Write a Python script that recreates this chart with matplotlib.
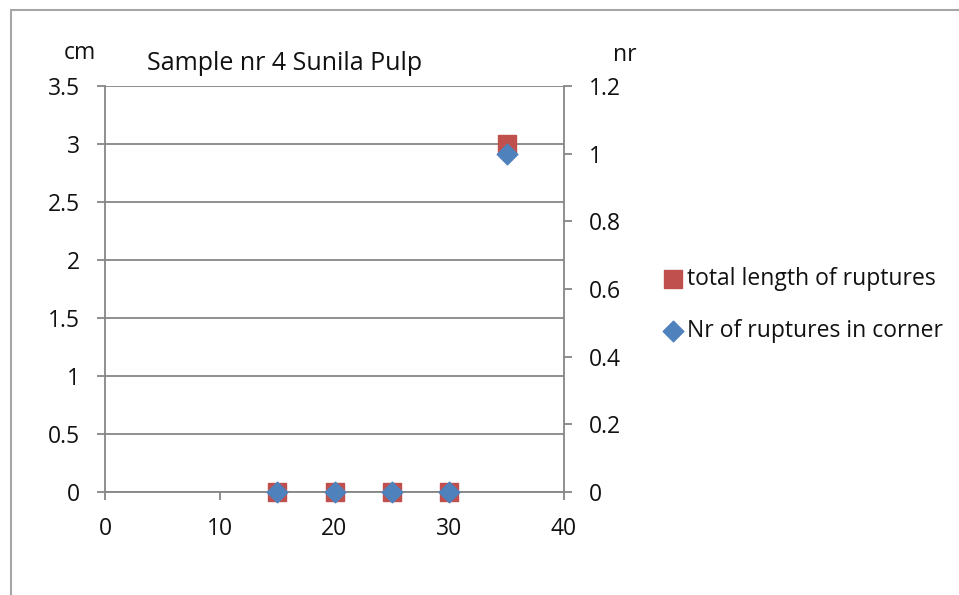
import matplotlib.pyplot as plt
from matplotlib.patches import Rectangle

# data
x_vals = [15, 20, 25, 30, 35]
total_length = [0, 0, 0, 0, 3]      # cm, left axis
nr_corner = [0, 0, 0, 0, 1]         # nr, right axis

left_ticks = [0, 0.5, 1, 1.5, 2, 2.5, 3, 3.5]
left_labels = ['0', '0.5', '1', '1.5', '2', '2.5', '3', '3.5']
right_ticks = [0, 0.2, 0.4, 0.6, 0.8, 1.0, 1.2]
right_labels = ['0', '0.2', '0.4', '0.6', '0.8', '1', '1.2']
x_ticks = [0, 10, 20, 30, 40]

plt.rcParams['font.family'] = ['Open Sans', 'DejaVu Sans']
plt.rcParams['font.size'] = 16.5
plt.rcParams['text.color'] = '#111111'
plt.rcParams['xtick.labelcolor'] = '#111111'
plt.rcParams['ytick.labelcolor'] = '#111111'
gray = '#868686'
red = '#C0504D'
blue = '#4F81BD'

fig = plt.figure(figsize=(9.59, 5.95), dpi=100)
# outer chart border (right and bottom edges run off the image)
fig.patches.append(Rectangle((11/959, -0.1), 1.2, 1 - 10/595 + 0.1, transform=fig.transFigure,
                             fill=False, edgecolor='#a6a6a6', linewidth=1.5))

ax = fig.add_axes([105/959, 1 - 492/595, (564 - 105)/959, (492 - 86)/595])
ax2 = ax.twinx()

ax.scatter(x_vals, total_length, marker='s', s=150, color=red, zorder=3, clip_on=False,
           label='total length of ruptures')
ax2.scatter(x_vals, nr_corner, marker='D', s=110, color=blue, zorder=3, clip_on=False,
            label='Nr of ruptures in corner')

ax.set_xlim(0, 40)
ax.set_ylim(0, 3.5)
ax2.set_ylim(0, 1.2)
ax.set_xticks(x_ticks)
ax.set_yticks(left_ticks)
ax.set_yticklabels(left_labels)
ax2.set_yticks(right_ticks)
ax2.set_yticklabels(right_labels)

ax.grid(axis='y', color=gray, linewidth=1.3)
ax.set_axisbelow(True)

for a in (ax, ax2):
    a.spines['top'].set_visible(False)
    for s in ('left', 'right', 'bottom'):
        a.spines[s].set_color(gray)
        a.spines[s].set_linewidth(1.3)
ax.spines['right'].set_visible(False)
ax2.spines['left'].set_visible(False)
ax2.spines['bottom'].set_visible(False)

ax.tick_params(axis='y', length=6, width=1.3, color=gray, pad=12)
ax.tick_params(axis='x', length=6, width=1.3, color=gray, pad=12)
ax2.tick_params(axis='y', length=6, width=1.3, color=gray, pad=12)

fig.text(80/959, 1 - 53/595, 'cm', ha='center', va='center')
fig.text(625/959, 1 - 55/595, 'nr', ha='center', va='center')
fig.text(147/959, 1 - 63/595, 'Sample nr 4 Sunila Pulp', ha='left', va='center', fontsize=18)

h1, l1 = ax.get_legend_handles_labels()
h2, l2 = ax2.get_legend_handles_labels()
fig.legend(h1 + h2, l1 + l2, loc='center left', bbox_to_anchor=(643.5/959, 1 - 305/595),
           frameon=False, handletextpad=0.0, handlelength=1.2, labelspacing=1.24,
           markerscale=1.0, borderpad=0.2, fontsize=16.5)

fig.savefig('out.png', dpi=100)
